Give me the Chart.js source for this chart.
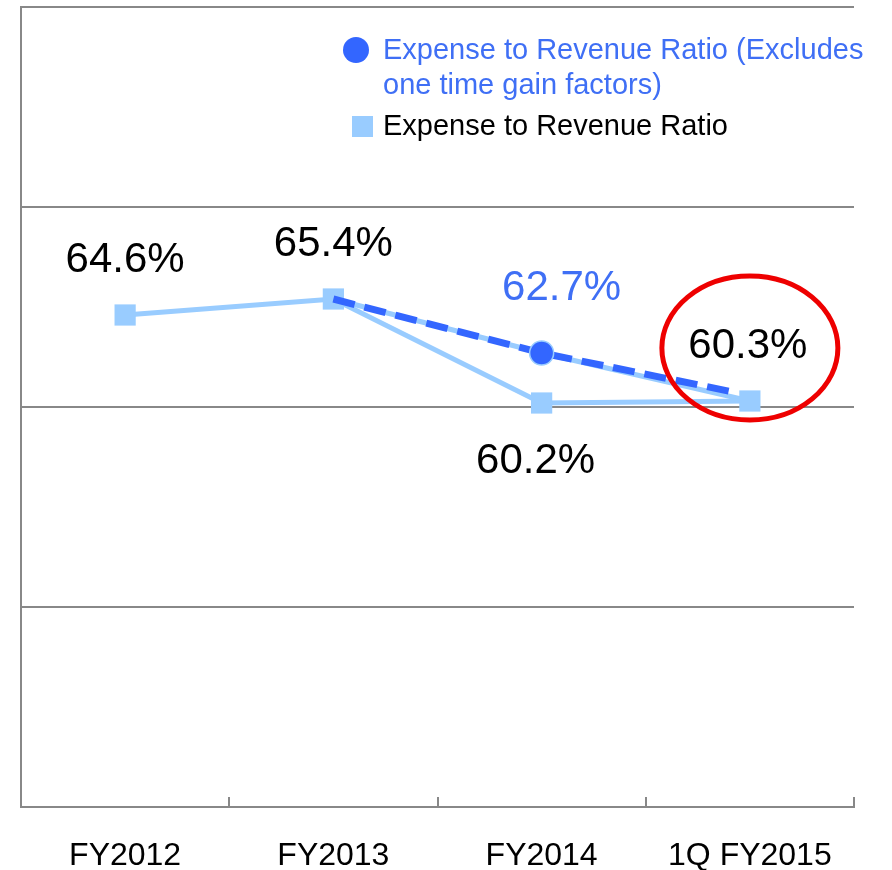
<!DOCTYPE html>
<html>
<head>
<meta charset="utf-8">
<script src="https://cdn.jsdelivr.net/npm/chart.js@4"></script>
<style>
  html, body { margin: 0; padding: 0; background: #fff; overflow: hidden; }
  #wrap { position: relative; width: 892px; height: 870px; overflow: hidden; }
  #ratioChart { position: absolute; left: 0; top: -8px; }
  #legend { position: absolute; left: 342px; top: 32px; font-family: "Liberation Sans", Arial, sans-serif; font-size: 29px; }
  .item { position: relative; padding-left: 41px; line-height: 35px; white-space: nowrap; }
  .dot { position: absolute; left: 1px; top: 5px; width: 26px; height: 26px; border-radius: 50%; background: #3366ff; }
  .sq { position: absolute; left: 10px; top: 8px; width: 21px; height: 21px; background: #99ccff; }
</style>
</head>
<body>
<div id="wrap">
  <canvas id="ratioChart" width="892" height="878"></canvas>
  <div id="legend">
    <div class="item" style="color:#3f6ff5"><span class="dot"></span>Expense to Revenue Ratio (Excludes<br>one time gain factors)</div>
    <div class="item" style="color:#000; margin-top:6px"><span class="sq"></span>Expense to Revenue Ratio</div>
  </div>
</div>
<script>
const periods = ['FY2012', 'FY2013', 'FY2014', '1Q FY2015'];
const ratio = [64.6, 65.4, 60.2, 60.3];
const ratioExcl = [null, 65.4, 62.7, 60.3];
// dashed trend drawn by hand in the source, ends a little short of the last category
const trendX = [1, 2, 2.92];
const trendY = [65.4, 62.7, 60.75];

const LIGHT = '#99ccff';
const DARK = '#3366ff';

// value labels + red highlight ring
const annotations = {
    id: 'annotations',
    afterDatasetsDraw(chart) {
        const ctx = chart.ctx;
        const sq = chart.getDatasetMeta(2).data;
        const tr = chart.getDatasetMeta(0).data;
        ctx.save();
        ctx.font = '42px "Liberation Sans", Arial, sans-serif';
        ctx.textAlign = 'center';
        ctx.textBaseline = 'middle';
        ctx.fillStyle = '#000';
        ctx.fillText(ratio[0].toFixed(1) + '%', sq[0].x, sq[0].y - 55);
        ctx.fillText(ratio[1].toFixed(1) + '%', sq[1].x, sq[1].y - 55);
        ctx.fillText(ratio[2].toFixed(1) + '%', sq[2].x - 6, sq[2].y + 58);
        ctx.fillText(ratio[3].toFixed(1) + '%', sq[3].x - 2, sq[3].y - 55);
        ctx.fillStyle = '#3f6ff5';
        ctx.fillText(ratioExcl[2].toFixed(1) + '%', tr[1].x + 20, tr[1].y - 65);

        ctx.strokeStyle = '#ee0000';
        ctx.lineWidth = 5;
        ctx.beginPath();
        ctx.ellipse(sq[3].x, sq[3].y - 53, 88, 72, 0, 0, Math.PI * 2);
        ctx.stroke();
        ctx.restore();
    }
};

new Chart(document.getElementById('ratioChart'), {
    type: 'line',
    data: {
        labels: periods,
        datasets: [
            {
                label: 'trend',
                data: trendX.map((x, i) => ({ x: x, y: trendY[i] })),
                xAxisID: 'x2',
                borderColor: DARK,
                borderWidth: 7,
                borderDash: [22, 10],
                pointRadius: [0, 12, 0],
                pointBackgroundColor: DARK,
                pointBorderColor: LIGHT,
                pointBorderWidth: 1.5,
                order: 0
            },
            {
                label: 'Expense to Revenue Ratio (Excludes one time gain factors)',
                data: ratioExcl,
                borderColor: LIGHT,
                borderWidth: 5,
                pointRadius: 0,
                order: 2
            },
            {
                label: 'Expense to Revenue Ratio',
                data: ratio,
                borderColor: LIGHT,
                backgroundColor: LIGHT,
                borderWidth: 5,
                pointStyle: 'rect',
                pointRadius: 15,
                pointBorderWidth: 0,
                order: 1
            }
        ]
    },
    options: {
        responsive: false,
        animation: false,
        layout: { padding: { left: 21, right: 38, top: 3, bottom: 0 } },
        plugins: {
            legend: { display: false },
            tooltip: { enabled: false }
        },
        scales: {
            x: {
                offset: true,
                afterFit(scale) { scale.height = 63; },
                grid: {
                    offset: true,
                    drawOnChartArea: false,
                    color: '#888',
                    lineWidth: 2,
                    tickLength: -10
                },
                border: { color: '#888', width: 2 },
                ticks: {
                    color: '#000',
                    padding: 40,
                    font: { family: '"Liberation Sans", Arial, sans-serif', size: 32 }
                }
            },
            x2: {
                type: 'linear',
                display: false,
                min: -0.5,
                max: 3.5
            },
            y: {
                min: 40,
                max: 80,
                ticks: { display: false, stepSize: 10 },
                grid: { color: '#888', lineWidth: 2, drawTicks: false },
                border: { color: '#888', width: 2 }
            }
        }
    },
    plugins: [annotations]
});
</script>
</body>
</html>
